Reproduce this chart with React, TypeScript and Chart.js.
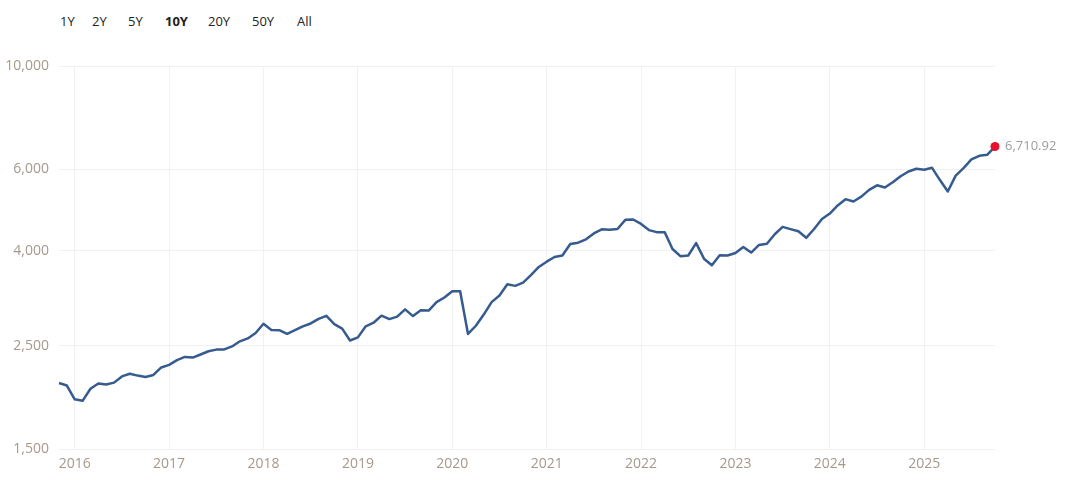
import React, { useEffect, useRef } from 'react';
import { Chart, registerables } from 'chart.js';

Chart.register(...registerables);

// ---- Data (monthly average S&P 500 level, last point = latest price) ----
const startYear = 2015;
const startMonth = 11; // November 2015

const values2015 = [2080.62, 2054.08];
const values2016 = [1918.6, 1904.42, 2021.95, 2075.54, 2065.55, 2083.89, 2148.9, 2177.48, 2157.69, 2143.02, 2164.99, 2246.63];
const values2017 = [2275.12, 2329.91, 2366.82, 2359.31, 2395.35, 2433.99, 2454.1, 2456.22, 2492.84, 2557.0, 2593.61, 2664.34];
const values2018 = [2789.8, 2705.16, 2702.77, 2653.63, 2701.49, 2754.35, 2793.64, 2857.82, 2901.5, 2785.46, 2723.23, 2567.31];
const values2019 = [2607.39, 2754.86, 2803.98, 2903.8, 2854.71, 2890.17, 2996.11, 2897.5, 2982.16, 2977.68, 3104.9, 3176.75];
const values2020 = [3278.2, 3277.31, 2652.39, 2761.98, 2919.62, 3104.66, 3207.62, 3391.71, 3365.52, 3418.7, 3548.99, 3695.31];
const values2021 = [3793.75, 3883.43, 3910.51, 4141.18, 4167.85, 4238.49, 4363.71, 4454.21, 4445.54, 4460.71, 4667.39, 4674.77];
const values2022 = [4573.82, 4435.98, 4391.27, 4391.3, 4040.36, 3898.95, 3911.73, 4158.56, 3850.52, 3726.05, 3917.49, 3912.38];
const values2023 = [3960.66, 4079.68, 3968.56, 4121.47, 4146.17, 4345.37, 4508.08, 4457.36, 4409.1, 4269.4, 4460.06, 4685.05];
const values2024 = [4815.61, 5011.96, 5170.57, 5112.49, 5235.23, 5415.14, 5538.0, 5478.0, 5621.26, 5792.32, 5929.92, 6010.91];
const values2025 = [5979.52, 6038.69, 5683.98, 5369.5, 5810.92, 6029.95, 6296.5, 6408.95, 6440.0, 6710.92];

const seriesValues: number[] = [
  ...values2015, ...values2016, ...values2017, ...values2018, ...values2019,
  ...values2020, ...values2021, ...values2022, ...values2023, ...values2024, ...values2025,
];

const categories: string[] = seriesValues.map((_, i) => {
  const m0 = startMonth - 1 + i;
  const y = startYear + Math.floor(m0 / 12);
  const m = (m0 % 12) + 1;
  return `${y}-${m < 10 ? '0' + m : m}`;
});

const yTickValues = [1500, 2500, 4000, 6000, 10000];
const rangeButtons = ['1Y', '2Y', '5Y', '10Y', '20Y', '50Y', 'All'];
const activeRange = '10Y';
const lastLabel = '6,710.92';

const FONT = '"Open Sans", "DejaVu Sans", sans-serif';
const LINE_COLOR = '#365b8e';
const DOT_COLOR = '#e8102d';
const TICK_COLOR = '#a6998c';
const GRID_COLOR = '#f1f1f1';

const buttonLefts = [60, 92, 128, 165, 208, 252, 297];

const lastValuePlugin = {
  id: 'lastValueLabel',
  afterDatasetsDraw(chart: any) {
    const meta = chart.getDatasetMeta(0);
    const pt = meta.data[meta.data.length - 1];
    if (!pt) return;
    const ctx = chart.ctx;
    ctx.save();
    ctx.font = `13px ${FONT}`;
    ctx.fillStyle = '#9d9d9d';
    ctx.textAlign = 'left';
    ctx.textBaseline = 'middle';
    ctx.fillText(lastLabel, pt.x + 10, pt.y);
    ctx.restore();
  },
};

export default function App() {
  const canvasRef = useRef<HTMLCanvasElement | null>(null);

  useEffect(() => {
    if (!canvasRef.current) return;
    const n = seriesValues.length;
    const chart = new Chart(canvasRef.current, {
      type: 'line',
      data: {
        labels: categories,
        datasets: [
          {
            data: seriesValues,
            borderColor: LINE_COLOR,
            borderWidth: 2.5,
            tension: 0,
            fill: false,
            borderJoinStyle: 'round',
            pointRadius: (c: any) => (c.dataIndex === n - 1 ? 4.5 : 0),
            pointHoverRadius: 0,
            pointBackgroundColor: DOT_COLOR,
            pointBorderWidth: 0,
            clip: false as any,
          },
        ],
      },
      options: {
        animation: false,
        responsive: false,
        maintainAspectRatio: false,
        events: [],
        layout: { padding: { left: 0, top: 66, right: 71, bottom: 0 } },
        plugins: {
          legend: { display: false },
          tooltip: { enabled: false },
          title: { display: false },
        },
        scales: {
          x: {
            type: 'category',
            offset: false,
            border: { display: false },
            grid: {
              drawTicks: false,
              color: (c: any) => {
                const lab = categories[c.index];
                return lab && lab.endsWith('-01') ? GRID_COLOR : 'rgba(0,0,0,0)';
              },
              lineWidth: 1,
            },
            ticks: {
              autoSkip: false,
              maxRotation: 0,
              minRotation: 0,
              padding: 7,
              color: TICK_COLOR,
              font: { family: FONT, size: 14 },
              callback: (_v: any, i: number) => {
                const lab = categories[i];
                return lab.endsWith('-01') ? lab.slice(0, 4) : '';
              },
            },
            afterFit: (scale: any) => {
              scale.height = 38;
            },
          },
          y: {
            type: 'logarithmic',
            min: 1500,
            max: 10000,
            border: { display: false },
            grid: { drawTicks: false, color: GRID_COLOR, lineWidth: 1 },
            afterBuildTicks: (scale: any) => {
              scale.ticks = yTickValues.map((v) => ({ value: v }));
            },
            ticks: {
              padding: 10,
              color: TICK_COLOR,
              font: { family: FONT, size: 14 },
              callback: (v: any) => Number(v).toLocaleString('en-US'),
            },
            afterFit: (scale: any) => {
              scale.width = 59;
            },
          },
        },
      },
      plugins: [lastValuePlugin],
    } as any);
    return () => chart.destroy();
  }, []);

  return (
    <div
      style={{
        position: 'fixed',
        left: 0,
        top: 0,
        width: 1066,
        height: 487,
        background: '#ffffff',
        overflow: 'hidden',
        fontFamily: FONT,
      }}
    >
      {rangeButtons.map((b, i) => (
        <span
          key={b}
          style={{
            position: 'absolute',
            left: buttonLefts[i],
            top: 12,
            fontSize: 13,
            lineHeight: '18px',
            color: '#222222',
            fontWeight: b === activeRange ? 700 : 400,
          }}
        >
          {b}
        </span>
      ))}
      <canvas
        ref={canvasRef}
        width={1066}
        height={487}
        style={{ position: 'absolute', left: 0, top: 0, width: 1066, height: 487 }}
      />
    </div>
  );
}
